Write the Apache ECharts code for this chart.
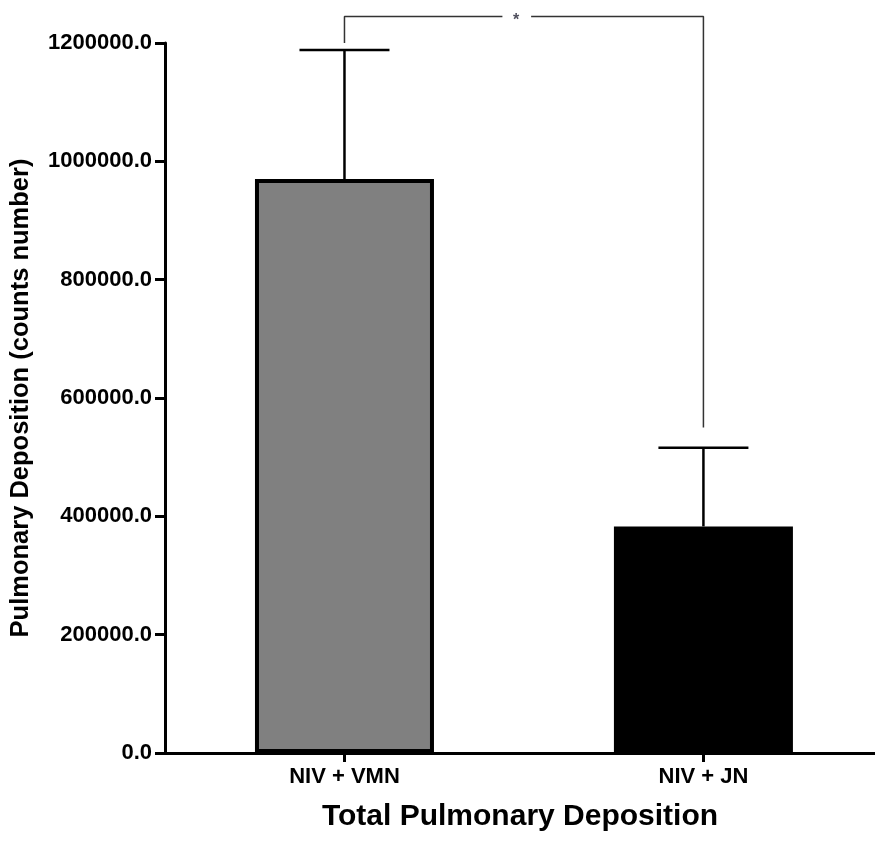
<!DOCTYPE html>
<html>
<head>
<meta charset="utf-8">
<script src="https://cdn.jsdelivr.net/npm/echarts@6/dist/echarts.min.js"></script>
<style>html,body{margin:0;padding:0;background:#fff}#c{width:875px;height:842px}</style>
</head>
<body>
<div id="c"></div>
<script>
var categories = ['NIV + VMN', 'NIV + JN'];
var means = [970000, 383000];
var errorTops = [1188000, 516000];
var barColors = ['#808080', '#000000'];
var yTicks = [0, 200000, 400000, 600000, 800000, 1000000, 1200000];
// significance bracket (x in category index units, y in counts)
var bracketLeft = [[0, 1200000], [0, 1245000], [0.44, 1245000]];
var bracketRight = [[0.52, 1245000], [1, 1245000], [1, 550000]];
var starPoint = [[0.478, 1245000]];
var starText = '*';

var FONT = '"Liberation Sans", Arial, sans-serif';
var chart = echarts.init(document.getElementById('c'), null, {renderer: 'canvas'});
var catIdx = categories.map(function (c, i) { return i; });

var option = {
  animation: false,
  backgroundColor: '#fff',
  grid: {left: 165, top: 43, right: 0, height: 710, containLabel: false},
  xAxis: {
    type: 'value',
    min: -0.5, max: 1.478,
    axisLine: {show: true, onZero: false, lineStyle: {color: '#000', width: 3}},
    axisTick: {show: true, customValues: catIdx, length: 9, lineStyle: {color: '#000', width: 3}},
    axisLabel: {customValues: catIdx, color: '#000', fontFamily: FONT, fontWeight: 'bold', fontSize: 22, margin: 13,
      formatter: function (v) { return categories[Math.round(v)]; }},
    name: 'Total Pulmonary Deposition',
    nameLocation: 'middle',
    nameGap: 49,
    nameTextStyle: {color: '#000', fontFamily: FONT, fontWeight: 'bold', fontSize: 30},
    splitLine: {show: false}
  },
  yAxis: {
    type: 'value',
    min: 0, max: 1200000, interval: 200000,
    axisLine: {show: true, onZero: false, lineStyle: {color: '#000', width: 3}},
    axisTick: {show: true, length: 10, lineStyle: {color: '#000', width: 3}},
    axisLabel: {color: '#000', fontFamily: FONT, fontWeight: 'bold', fontSize: 22, margin: 13,
      formatter: function (v) { return v.toFixed(1); }},
    splitLine: {show: false},
    name: 'Pulmonary Deposition (counts number)',
    nameLocation: 'middle',
    nameRotate: 90,
    nameGap: 131,
    nameTextStyle: {color: '#000', fontFamily: FONT, fontWeight: 'bold', fontSize: 25.5}
  },
  series: [{
    type: 'bar',
    barWidth: 179,
    data: means.map(function (v, i) {
      return {value: [i, v], itemStyle: {color: barColors[i], borderColor: '#000', borderWidth: 4}};
    }),
    z: 2
  }, {
    type: 'custom',
    data: means.map(function (v, i) { return [i, v, errorTops[i]]; }),
    renderItem: function (params, api) {
      var base = api.coord([api.value(0), api.value(1)]);
      var top = api.coord([api.value(0), api.value(2)]);
      var half = 45;
      return {
        type: 'group',
        children: [
          {type: 'line', shape: {x1: base[0], y1: base[1], x2: top[0], y2: top[1]}, style: {stroke: '#000', lineWidth: 2.5}},
          {type: 'line', shape: {x1: top[0] - half, y1: top[1], x2: top[0] + half, y2: top[1]}, style: {stroke: '#000', lineWidth: 2.5}}
        ]
      };
    },
    z: 1
  }, {
    type: 'line',
    data: bracketLeft,
    symbol: 'none',
    clip: false,
    lineStyle: {color: '#333', width: 1.5}
  }, {
    type: 'line',
    data: bracketRight,
    symbol: 'none',
    clip: false,
    lineStyle: {color: '#333', width: 1.5}
  }, {
    type: 'scatter',
    data: starPoint,
    symbolSize: 0,
    clip: false,
    label: {show: true, position: 'inside', formatter: starText, color: '#223', fontFamily: FONT, fontWeight: 'bold', fontSize: 16, offset: [0, 4]}
  }]
};
chart.setOption(option);
</script>
</body>
</html>
